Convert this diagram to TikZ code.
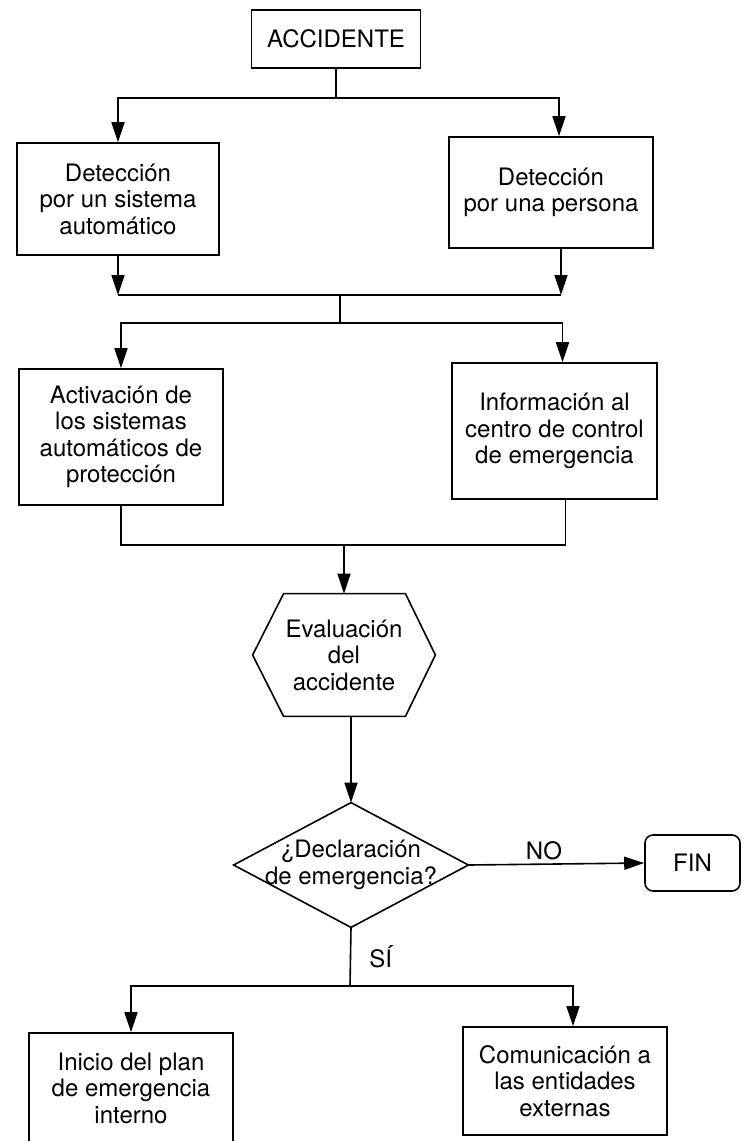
\documentclass[tikz,border=0pt]{standalone}
\usepackage{fontspec}
\setmainfont{TeX Gyre Heros}
\usetikzlibrary{arrows.meta}

\tikzset{
  caja/.style={draw, line width=0.8pt, inner sep=0pt, align=center,
    font=\fontsize{12}{13.25}\selectfont},
  texto/.style={inner sep=0pt, align=center, font=\fontsize{12}{13.25}\selectfont},
  linea/.style={line width=0.8pt},
  flecha/.style={line width=0.8pt, -{Triangle[length=10pt,width=6.5pt]}}
}

\begin{document}
\begin{tikzpicture}[x=0.5pt,y=-0.5pt]
\useasboundingbox (0,0) rectangle (742,1141);
% cajas
\node[caja, minimum width=84.5pt, minimum height=29pt] (acc) at (336,39) {ACCIDENTE};
\node[caja, minimum width=101pt, minimum height=56pt] (detA) at (118,199) {Detección\\por un sistema\\automático};
\node[caja, minimum width=102pt, minimum height=55.5pt] (detP) at (551,192.5) {Detección\\por una persona};
\node[caja, minimum width=102pt, minimum height=68pt] (act) at (121,437) {Activación de\\los sistemas\\automáticos de\\protección};
\node[caja, minimum width=102.5pt, minimum height=68pt] (info) at (554.5,431) {Información al\\centro de control\\de emergencia};
\node[texto, minimum width=91pt, minimum height=61pt] (eval) at (344,655) {Evaluación\\del\\accidente};
\node[texto, minimum width=117pt, minimum height=62pt] (decl) at (351,865) {¿Declaración\\de emergencia?};
\node[caja, rounded corners=4pt, minimum width=47.5pt, minimum height=28pt] (fin) at (692.5,863) {FIN};
\node[caja, minimum width=102pt, minimum height=55pt] (inicio) at (131,1088) {Inicio del plan\\de emergencia\\interno};
\node[caja, minimum width=102pt, minimum height=54pt] (comun) at (565,1081) {Comunicación a\\las entidades\\externas};
% formas
\draw[linea] ([xshift=15.5pt]eval.north west) -- ([xshift=-15pt]eval.north east) -- (eval.east)
  -- ([xshift=-15pt]eval.south east) -- ([xshift=15.5pt]eval.south west) -- (eval.west) -- cycle;
\draw[linea] (decl.north) -- (decl.east) -- (decl.south) -- (decl.west) -- cycle;
% conexiones
\coordinate (r1) at (336,98);
\draw[linea] (acc.south) -- (r1);
\draw[flecha] (r1) -| (detA.north);
\draw[flecha] (r1) -| ([xshift=4pt]detP.north);
\coordinate (u1) at (340,295);
\draw[flecha] (detA.south) -- (detA.south |- u1);
\draw[flecha] ([xshift=5pt]detP.south) -- ([xshift=5pt]detP.south |- u1);
\draw[linea] (detA.south |- u1) -- ([xshift=5pt]detP.south |- u1);
\coordinate (r2) at (340,323);
\draw[linea] (u1) -- (r2);
\draw[flecha] (r2) -| (act.north);
\draw[flecha] (r2) -| ([xshift=4pt]info.north);
\coordinate (u2) at (344,545);
\draw[linea] (act.south) |- (u2) -| ([xshift=5.5pt]info.south);
\draw[flecha] (u2) -- (eval.north);
\draw[flecha] (decl.north |- eval.south) -- (decl.north);
\draw[flecha] (decl.east) -- node[texto, pos=0.43, above=1.5pt] (no) {NO} (fin.west);
\coordinate (r3) at (350,986);
\draw[linea] (decl.south) -- node[texto, right=9pt] (si) {SÍ} (r3);
\draw[flecha] (r3) -| (inicio.north);
\draw[flecha] (r3) -| ([xshift=4pt]comun.north);
\end{tikzpicture}
\end{document}
